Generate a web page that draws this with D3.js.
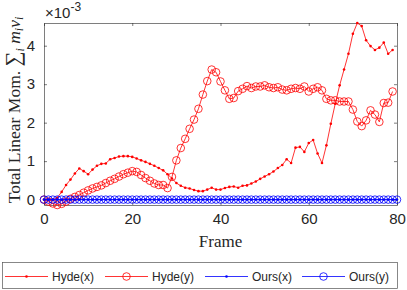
<!DOCTYPE html>
<html>
<head>
<meta charset="utf-8">
<script src="https://cdn.jsdelivr.net/npm/d3@7"></script>
<style>
  body { margin: 0; background: white; }
  svg { display: block; }
</style>
</head>
<body>
<div id="chart"></div>
<script>
// values in units of 1e-3
var hydeFrames = d3.range(0, 80);
var oursFrames = d3.range(0, 81);

var hydeX = [0.0, 0.0, 0.0, 0.05, 0.2, 0.38, 0.52, 0.68, 0.81, 0.74,
    0.66, 0.78, 0.88, 0.93, 0.94, 1.05, 1.08, 1.12, 1.13, 1.13,
    1.11, 1.07, 1.02, 0.98, 0.93, 0.88, 0.82, 0.76, 0.66, 0.55,
    0.43, 0.36, 0.31, 0.29, 0.25, 0.22, 0.22, 0.26, 0.31, 0.26,
    0.26, 0.3, 0.33, 0.34, 0.31, 0.36, 0.37, 0.42, 0.47, 0.54,
    0.6, 0.66, 0.73, 0.82, 0.9, 1.05, 0.95, 1.35, 1.37, 1.24,
    1.47, 1.55, 1.2, 0.95, 1.41, 1.97, 2.49, 2.97, 3.38, 3.79,
    4.31, 4.59, 4.51, 4.14, 3.99, 3.89, 3.95, 4.08, 3.79, 3.89];

var hydeY = [0.0, -0.05, -0.1, -0.14, -0.11, -0.05, 0.02, 0.07, 0.12, 0.18,
    0.24, 0.29, 0.33, 0.37, 0.43, 0.49, 0.54, 0.6, 0.66, 0.7,
    0.74, 0.72, 0.64, 0.56, 0.49, 0.42, 0.38, 0.38, 0.3, 0.59,
    1.02, 1.34, 1.58, 1.84, 2.08, 2.36, 2.73, 3.08, 3.38, 3.31,
    3.07, 2.84, 2.62, 2.64, 2.82, 2.88, 2.95, 2.9, 2.94, 2.94,
    2.97, 2.92, 2.9, 2.92, 2.86, 2.84, 2.88, 2.9, 2.88, 2.94,
    2.81, 2.88, 2.92, 2.84, 2.62, 2.58, 2.58, 2.55, 2.55, 2.55,
    2.34, 2.03, 1.91, 2.06, 2.32, 2.21, 2.02, 2.51, 2.52, 2.81];

var oursX = oursFrames.map(function() { return 0; });
var oursY = oursFrames.map(function() { return 0; });

var xTicks = [0, 20, 40, 60, 80];
var yTicks = [0, 1, 2, 3, 4];

var series = [
    {name: "Hyde(x)", frames: hydeFrames, values: hydeX, color: "#ff0000", marker: "dot"},
    {name: "Hyde(y)", frames: hydeFrames, values: hydeY, color: "#ff0000", marker: "circle"},
    {name: "Ours(x)", frames: oursFrames, values: oursX, color: "#0000ff", marker: "dot"},
    {name: "Ours(y)", frames: oursFrames, values: oursY, color: "#0000ff", marker: "circle"}
];

var W = 407, H = 290;
var box = {left: 44, right: 397, top: 23, bottom: 205};

var svg = d3.select("#chart").append("svg")
    .attr("width", W)
    .attr("height", H);

var allVals = hydeX.concat(hydeY, oursX, oursY);

var x = d3.scaleLinear()
    .domain([0, 80])
    .range([box.left, box.right]);

var y = d3.scaleLinear()
    .domain(d3.extent(allVals))
    .range([box.bottom, box.top]);

var axisColor = "#262626";
var tickFont = "'Liberation Sans', Arial, sans-serif";
var serif = "'Liberation Serif', 'Times New Roman', serif";

// axes (box on, ticks inward)
svg.append("g")
    .attr("transform", "translate(0," + box.bottom + ")")
    .call(d3.axisBottom(x).tickValues(xTicks).tickSizeInner(-3).tickSizeOuter(0).tickPadding(8))
    .call(function(g) {
        g.select(".domain").attr("stroke", axisColor).attr("stroke-width", 0.6);
        g.selectAll(".tick line").attr("stroke", axisColor).attr("stroke-width", 0.6);
        g.selectAll(".tick text").attr("fill", axisColor)
            .style("font-family", tickFont).style("font-size", "15px");
    });

svg.append("g")
    .attr("transform", "translate(0," + box.top + ")")
    .call(d3.axisTop(x).tickValues(xTicks).tickSizeInner(-3).tickSizeOuter(0).tickFormat(""))
    .call(function(g) {
        g.select(".domain").attr("stroke", axisColor).attr("stroke-width", 0.6);
        g.selectAll(".tick line").attr("stroke", axisColor).attr("stroke-width", 0.6);
    });

svg.append("g")
    .attr("transform", "translate(" + box.left + ",0)")
    .call(d3.axisLeft(y).tickValues(yTicks).tickFormat(d3.format("d"))
        .tickSizeInner(-3).tickSizeOuter(0).tickPadding(9))
    .call(function(g) {
        g.select(".domain").attr("stroke", axisColor).attr("stroke-width", 0.6);
        g.selectAll(".tick line").attr("stroke", axisColor).attr("stroke-width", 0.6);
        g.selectAll(".tick text").attr("fill", axisColor)
            .style("font-family", tickFont).style("font-size", "15px");
    });

svg.append("g")
    .attr("transform", "translate(" + box.right + ",0)")
    .call(d3.axisRight(y).tickValues(yTicks).tickSizeInner(-3).tickSizeOuter(0).tickFormat(""))
    .call(function(g) {
        g.select(".domain").attr("stroke", axisColor).attr("stroke-width", 0.6);
        g.selectAll(".tick line").attr("stroke", axisColor).attr("stroke-width", 0.6);
    });

// exponent label
var expo = svg.append("text")
    .attr("x", box.left + 1)
    .attr("y", 18)
    .attr("fill", axisColor)
    .style("font-family", tickFont)
    .style("font-size", "15px");
expo.append("tspan").text("\u00d710");
expo.append("tspan").attr("dy", -7).style("font-size", "12px").text("-3");

// lines and markers
var line = d3.line()
    .x(function(d) { return x(d[0]); })
    .y(function(d) { return y(d[1]); });

series.forEach(function(s) {
    var pts = s.frames.map(function(f, i) { return [f, s.values[i]]; });
    var g = svg.append("g").attr("class", "series");
    g.append("path")
        .datum(pts)
        .attr("d", line)
        .attr("fill", "none")
        .attr("stroke", s.color)
        .attr("stroke-width", 0.8);
    if (s.marker === "dot") {
        g.selectAll("circle").data(pts).enter().append("circle")
            .attr("cx", function(d) { return x(d[0]); })
            .attr("cy", function(d) { return y(d[1]); })
            .attr("r", 1.3)
            .attr("fill", s.color);
    } else {
        g.selectAll("circle").data(pts).enter().append("circle")
            .attr("cx", function(d) { return x(d[0]); })
            .attr("cy", function(d) { return y(d[1]); })
            .attr("r", 3.8)
            .attr("fill", "none")
            .attr("stroke", s.color)
            .attr("stroke-width", 0.8);
    }
});

// axis titles
svg.append("text")
    .attr("x", (box.left + box.right) / 2)
    .attr("y", 247)
    .attr("text-anchor", "middle")
    .attr("fill", axisColor)
    .style("font-family", serif)
    .style("font-size", "17px")
    .text("Frame");

var ylab = svg.append("text")
    .attr("transform", "translate(20," + 110 + ") rotate(-90)")
    .attr("text-anchor", "middle")
    .attr("fill", axisColor)
    .style("font-family", serif)
    .style("font-size", "17.5px");
ylab.append("tspan").text("Total Linear Mom. ");
ylab.append("tspan").style("font-size", "21px").text("\u2211");
ylab.append("tspan").attr("dy", 4).style("font-size", "12px").style("font-style", "italic").text("i");
ylab.append("tspan").attr("dy", -4).style("font-style", "italic").text(" m");
ylab.append("tspan").attr("dy", 3).style("font-size", "12px").style("font-style", "italic").text("i");
ylab.append("tspan").attr("dy", -3).style("font-style", "italic").text("v");
ylab.append("tspan").attr("dy", 3).style("font-size", "12px").style("font-style", "italic").text("i");

// legend
var legend = svg.append("g");
legend.append("rect")
    .attr("x", 2.5)
    .attr("y", 262.5)
    .attr("width", 395)
    .attr("height", 26)
    .attr("fill", "white")
    .attr("stroke", "#555")
    .attr("stroke-width", 0.7);

var legendX = [5, 105, 205, 302];

var items = legend.selectAll(".item")
    .data(series)
    .enter().append("g")
        .attr("class", "item")
        .attr("transform", function(d, i) { return "translate(" + legendX[i] + ",276.5)"; });

items.append("line")
    .attr("x1", 0).attr("x2", 43)
    .attr("stroke", function(d) { return d.color; })
    .attr("stroke-width", 0.8);

items.append("circle")
    .attr("cx", 21.5)
    .attr("r", function(d) { return d.marker === "dot" ? 1.3 : 3.8; })
    .attr("fill", function(d) { return d.marker === "dot" ? d.color : "none"; })
    .attr("stroke", function(d) { return d.marker === "dot" ? "none" : d.color; })
    .attr("stroke-width", 0.8);

items.append("text")
    .attr("x", 47)
    .attr("dy", "0.35em")
    .attr("fill", axisColor)
    .style("font-family", tickFont)
    .style("font-size", "12px")
    .text(function(d) { return d.name; });
</script>
</body>
</html>
